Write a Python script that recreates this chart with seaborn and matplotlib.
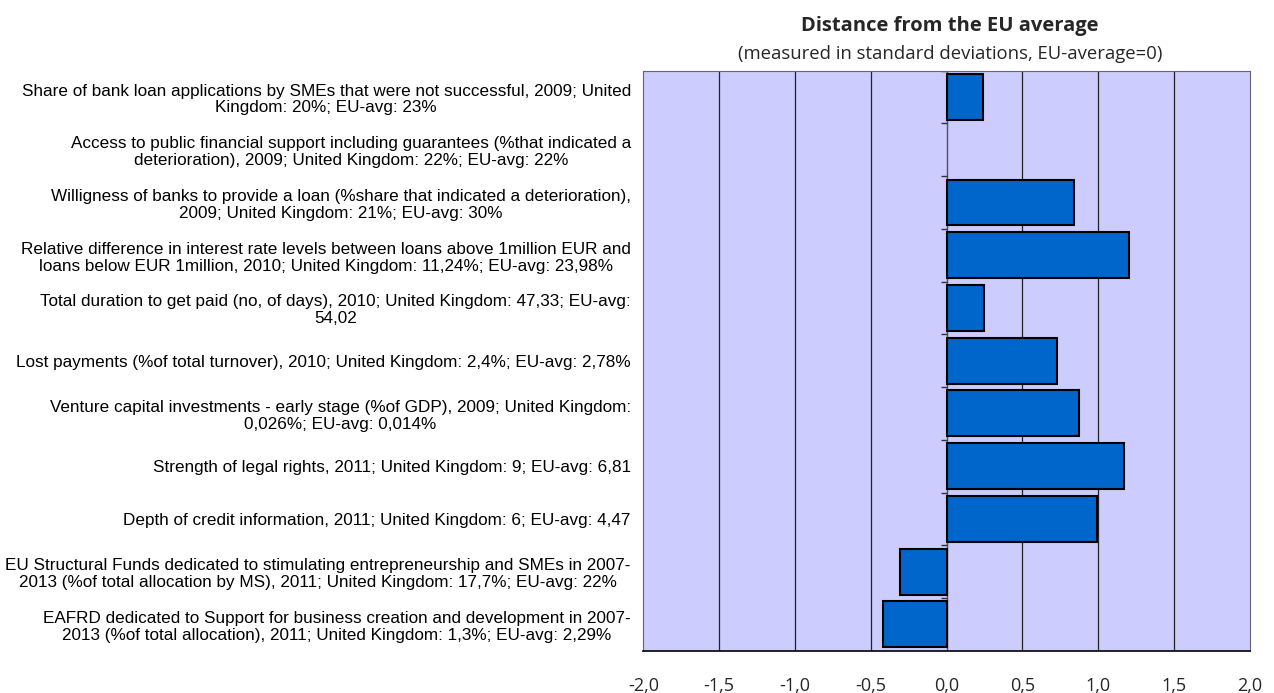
import numpy as np
import pandas as pd
import matplotlib
matplotlib.use("Agg")
import matplotlib.pyplot as plt
import seaborn as sns
from matplotlib.ticker import FuncFormatter

categories = [
    "Share of bank loan applications by SMEs that were not successful, 2009; United\nKingdom: 20%; EU-avg: 23%",
    "Access to public financial support including guarantees (%that indicated a\ndeterioration), 2009; United Kingdom: 22%; EU-avg: 22%",
    "Willigness of banks to provide a loan (%share that indicated a deterioration),\n2009; United Kingdom: 21%; EU-avg: 30%",
    "Relative difference in interest rate levels between loans above 1million EUR and\nloans below EUR 1million, 2010; United Kingdom: 11,24%; EU-avg: 23,98%",
    "Total duration to get paid (no, of days), 2010; United Kingdom: 47,33; EU-avg:\n54,02",
    "Lost payments (%of total turnover), 2010; United Kingdom: 2,4%; EU-avg: 2,78%",
    "Venture capital investments - early stage (%of GDP), 2009; United Kingdom:\n0,026%; EU-avg: 0,014%",
    "Strength of legal rights, 2011; United Kingdom: 9; EU-avg: 6,81",
    "Depth of credit information, 2011; United Kingdom: 6; EU-avg: 4,47",
    "EU Structural Funds dedicated to stimulating entrepreneurship and SMEs in 2007-\n2013 (%of total allocation by MS), 2011; United Kingdom: 17,7%; EU-avg: 22%",
    "EAFRD dedicated to Support for business creation and development in 2007-\n2013 (%of total allocation), 2011; United Kingdom: 1,3%; EU-avg: 2,29%",
]
values = [0.24, 0.0, 0.84, 1.20, 0.25, 0.73, 0.876, 1.17, 0.99, -0.31, -0.42]
x_ticks = [-2.0, -1.5, -1.0, -0.5, 0.0, 0.5, 1.0, 1.5, 2.0]

title = "Distance from the EU average"
subtitle = "(measured in standard deviations, EU-average=0)"

df = pd.DataFrame({"category": categories, "value": values})

sns.set_theme(style="white")
plt.rcParams["font.family"] = ["Liberation Sans", "DejaVu Sans"]

fig = plt.figure(figsize=(12.74, 6.93), dpi=100)
ax = fig.add_axes([0.505, 0.061, 0.476, 0.837])
ax.set_facecolor("#CCCCFF")

sns.barplot(data=df, x="value", y="category", orient="h", color="#0066CC",
            width=0.87, edgecolor="black", linewidth=1.5, saturation=1,
            ax=ax, zorder=3)
for p in ax.patches:
    if abs(p.get_width()) < 1e-9:
        p.set_linewidth(0)

ax.set_xlim(-2, 2)
ax.set_ylim(len(categories) - 0.5, -0.5)
ax.set_xticks(x_ticks)
ax.xaxis.set_major_formatter(FuncFormatter(lambda v, pos: f"{v:.1f}".replace(".", ",")))
for xt in x_ticks[1:-1]:
    ax.axvline(xt, color="#222222", linewidth=0.9, zorder=1)
ax.axvline(0, color="#555555", linewidth=0.8, zorder=2)
# category boundary tick marks on the zero axis
bounds = np.arange(len(categories) + 1) - 0.5
ax.hlines(bounds, -0.04, 0.0, color="#333333", linewidth=1.0, zorder=2)

ax.tick_params(axis="x", length=0, pad=19, labelsize=13)
ax.tick_params(axis="y", length=0, pad=9, labelsize=12.3)
for lab in ax.get_xticklabels():
    lab.set_family(["Open Sans", "DejaVu Sans"])
for lab in ax.get_yticklabels():
    lab.set_multialignment("center")
    lab.set_linespacing(1.15)
    lab.set_color("black")
ax.set_xlabel("")
ax.set_ylabel("")

for side in ["top", "right", "left"]:
    ax.spines[side].set_visible(True)
    ax.spines[side].set_color("#666666")
    ax.spines[side].set_linewidth(0.8)
ax.spines["bottom"].set_color("black")
ax.spines["bottom"].set_linewidth(1.2)

fig.text(0.7457, 0.963, title, ha="center", va="center", fontsize=14.5,
         fontweight="bold", family=["Open Sans", "DejaVu Sans"])
fig.text(0.7457, 0.922, subtitle, ha="center", va="center", fontsize=13.3,
         family=["Open Sans", "DejaVu Sans"])

fig.savefig("out.png", dpi=100)
